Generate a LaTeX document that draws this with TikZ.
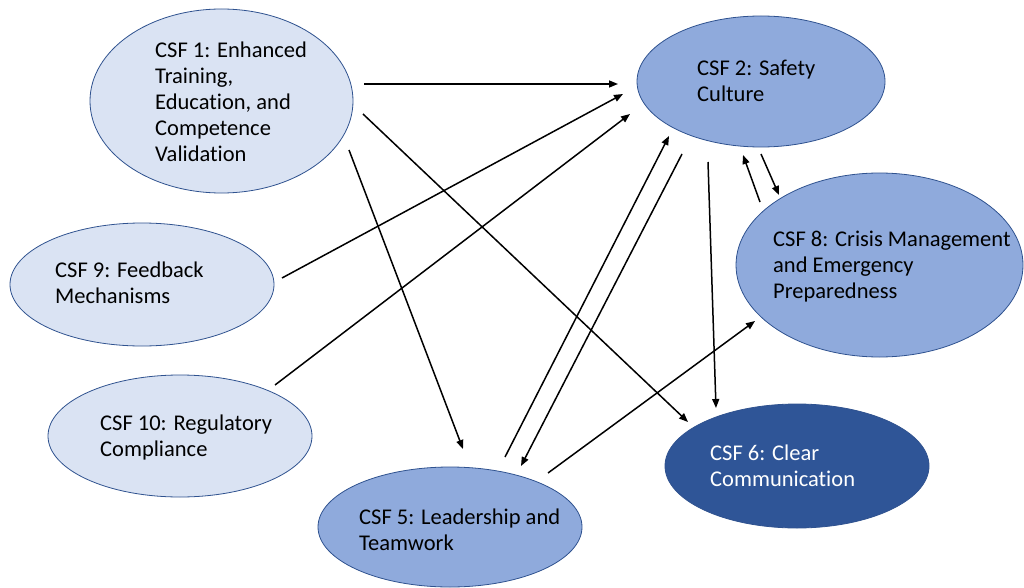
\documentclass[tikz,border=0pt]{standalone}
\usepackage{fontspec}
\setmainfont{Carlito}[Ligatures=CommonOff]
\usetikzlibrary{shapes.geometric,arrows.meta}

\definecolor{claro}{HTML}{DAE3F3}
\definecolor{medio}{HTML}{8FAADC}
\definecolor{escuro}{HTML}{2F5597}
\definecolor{borda}{HTML}{2F528F}

\tikzset{
    csf/.style={ellipse, draw=borda, line width=0.8pt, inner sep=0pt},
    rotulo/.style={anchor=base west, inner sep=0pt, align=left,
        font=\fontsize{22.5}{26}\selectfont},
    seta/.style={line width=1.5pt, -{Triangle[length=9pt,width=7pt]}}
}

\begin{document}
\begin{tikzpicture}[x=1pt,y=-1pt]
    \useasboundingbox (0,0) rectangle (1024,588);

    % elipses dos CSF
    \foreach \n/\x/\y/\w/\h/\cor in {
        c1/221.5/101/263/184/claro,
        c2/761/81.5/248/131/medio,
        c8/879.5/265/287/184/medio,
        c9/142/284.5/264/123/claro,
        c10/180/436/264/122/claro,
        c5/450/527/264/120/medio,
        c6/797/466/264/124/escuro%
    }{
        \node[csf, fill=\cor, minimum width=\w pt, minimum height=\h pt] (\n) at (\x,\y) {};
    }

    % textos (ancorados na linha de base da ultima linha)
    \node[rotulo] (t1) at (155,162) {CSF 1: Enhanced\\Training,\\Education, and\\Competence\\Validation};
    \node[rotulo] (t2) at (697,102) {CSF 2: Safety\\Culture};
    \node[rotulo] (t8) at (773,298) {CSF 8: Crisis Management\\and Emergency\\Preparedness};
    \node[rotulo] (t9) at (55,303) {CSF 9: Feedback\\Mechanisms};
    \node[rotulo] (t10) at (100,456) {CSF 10: Regulatory\\Compliance};
    \node[rotulo] (t5) at (359,550) {CSF 5: Leadership and\\Teamwork};
    \node[rotulo, text=white] (t6) at (710,486) {CSF 6: Clear\\Communication};

    % setas entre os CSF (origem/deslocamento -> destino/deslocamento)
    \foreach \a/\ax/\ay/\b/\bx/\by in {
        c1/142.5/-17/c2/-143/2.5,
        c1/141.5/13/c6/-109/-44,
        c1/127.5/49/c5/13/-78,
        c9/140/-6.5/c2/-138/12.5,
        c10/95/-51/c2/-131/32.5,
        c5/55/-70/c2/-92/54.5,
        c2/-79/72.5/c5/71/-61,
        c2/-53/80.5/c6/-81/-58,
        c8/-119.5/-63/c2/-18/73.5,
        c2/0/72.5/c8/-100.5/-70,
        c5/98/-54/c8/-124.5/56%
    }{
        \draw[seta] ([shift={(\ax,\ay)}]\a.center) -- ([shift={(\bx,\by)}]\b.center);
    }
\end{tikzpicture}
\end{document}
